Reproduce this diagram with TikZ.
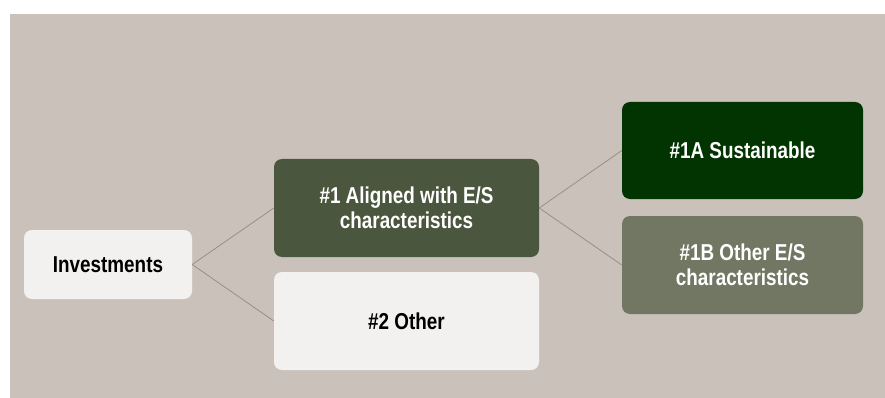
\documentclass[tikz,border=0pt]{standalone}
\usepackage{fontspec}
\setmainfont{Liberation Sans}[FakeStretch=0.82]
\definecolor{bgc}{HTML}{CAC1BB}
\definecolor{lightbox}{HTML}{F2F1EF}
\definecolor{midgreen}{HTML}{4B563E}
\definecolor{darkgreen}{HTML}{023402}
\definecolor{greygreen}{HTML}{727764}
\definecolor{linec}{HTML}{9B8E85}
\tikzset{
  box/.style={rounded corners=8pt, align=center, inner sep=0pt, font=\fontsize{23}{24.5}\selectfont\bfseries},
  lightb/.style={box, fill=lightbox, text=black},
  conn/.style={draw=linec, line width=0.8pt},
}
\begin{document}
\begin{tikzpicture}[x=1pt,y=-1pt]
\useasboundingbox (0,0) rectangle (885,398);
\fill[white] (0,0) rectangle (885,398);
\fill[bgc] (10,14) rectangle (885,398);
\node[lightb, minimum width=168pt, minimum height=69pt] (inv) at (108,264.5) {Investments};
\node[box, fill=midgreen, text=white, minimum width=265pt, minimum height=98pt] (al) at (406.5,208) {\#1 Aligned with E/S\\characteristics};
\node[lightb, minimum width=265pt, minimum height=98pt] (oth) at (406.5,321) {\#2 Other};
\node[box, fill=darkgreen, text=white, minimum width=241pt, minimum height=97pt] (sus) at (742.5,150.5) {\#1A Sustainable};
\node[box, fill=greygreen, text=white, minimum width=241pt, minimum height=98pt] (ob) at (742.5,265) {\#1B Other E/S\\characteristics};
\draw[conn] (inv.east) -- (al.west);
\draw[conn] (inv.east) -- (oth.west);
\draw[conn] (al.east) -- (sus.west);
\draw[conn] (al.east) -- (ob.west);
\end{tikzpicture}
\end{document}
